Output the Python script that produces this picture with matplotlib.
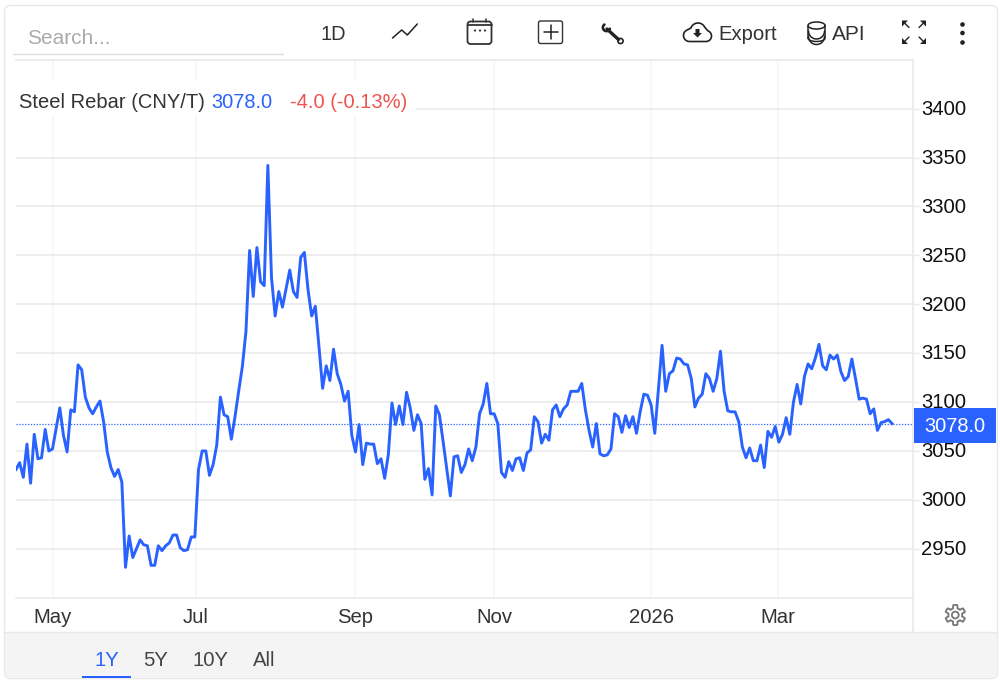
import numpy as np
import matplotlib
matplotlib.use("Agg")
import matplotlib.pyplot as plt
from matplotlib.patches import Rectangle, FancyBboxPatch, Circle, Polygon
from matplotlib.transforms import ScaledTranslation

matplotlib.rc("font", **{"family": "Liberation Sans"})

# daily close, CNY/T
prices = [
    3031, 3038, 3023, 3057, 3017, 3067, 3042, 3043, 3072, 3050,
    3052, 3073, 3094, 3066, 3049, 3092, 3090, 3138, 3133, 3105,
    3094, 3088, 3095, 3101, 3080, 3049, 3033, 3024, 3031, 3018,
    2931, 2963, 2941, 2950, 2959, 2954, 2953, 2933, 2933, 2953,
    2948, 2953, 2956, 2964, 2964, 2951, 2948, 2949, 2962, 2962,
    3031, 3050, 3050, 3025, 3036, 3056, 3105, 3087, 3085, 3062,
    3085, 3111, 3136, 3172, 3255, 3208, 3258, 3223, 3219, 3342,
    3227, 3188, 3213, 3197, 3216, 3235, 3213, 3207, 3248, 3253,
    3215, 3188, 3198, 3157, 3114, 3137, 3122, 3154, 3129, 3118,
    3101, 3111, 3066, 3049, 3077, 3036, 3058, 3057, 3057, 3037,
    3042, 3022, 3046, 3099, 3077, 3096, 3077, 3110, 3094, 3071,
    3087, 3078, 3021, 3032, 3005, 3096, 3087, 3060, 3032, 3004,
    3044, 3045, 3028, 3036, 3052, 3040, 3054, 3088, 3098, 3119,
    3088, 3088, 3078, 3028, 3023, 3039, 3030, 3042, 3043, 3030,
    3048, 3051, 3085, 3080, 3058, 3067, 3061, 3092, 3097, 3085,
    3093, 3097, 3111, 3111, 3111, 3119, 3092, 3071, 3054, 3078,
    3047, 3045, 3046, 3052, 3088, 3085, 3069, 3086, 3074, 3085,
    3068, 3090, 3108, 3107, 3097, 3068, 3113, 3158, 3111, 3129,
    3132, 3145, 3144, 3139, 3138, 3124, 3095, 3104, 3108, 3129,
    3124, 3111, 3124, 3152, 3111, 3091, 3090, 3090, 3080, 3054,
    3043, 3053, 3040, 3040, 3056, 3033, 3070, 3064, 3075, 3059,
    3067, 3084, 3067, 3100, 3118, 3098, 3126, 3139, 3134, 3145,
    3159, 3137, 3133, 3148, 3144, 3148, 3131, 3122, 3126, 3144,
    3124, 3103, 3104, 3103, 3088, 3093, 3071, 3079, 3080, 3082,
    3078,
]
month_pos = [10, 49.3, 93, 131, 174, 208.7]
month_labels = ["May", "Jul", "Sep", "Nov", "2026", "Mar"]
price_ticks = [2950, 3000, 3050, 3100, 3150, 3200, 3250, 3300, 3350, 3400]
last_price = 3078.0

BLUE = "#2962ff"
GRID = "#e8e8e8"
VGRID = "#f2f5fa"
DARK = "#333333"

W, H = 1000, 681
fig = plt.figure(figsize=(W / 100, H / 100), dpi=100)

ax = fig.add_axes([16 / W, 1 - 598 / H, (913 - 16) / W, (598 - 60) / H], zorder=2)
ax.set_facecolor("none")
ax.plot(range(len(prices)), prices, color=BLUE, lw=2.1, solid_joinstyle="round",
        zorder=4)
ax.axhline(last_price, color=BLUE, lw=0.9, ls=(0, (1, 1.3)), zorder=3)
ax.set_xlim(0, 245.75)
ax.set_ylim(2899.6, 3449.8)

ax.yaxis.tick_right()
ax.set_yticks(price_ticks)
ax.set_xticks(month_pos)
ax.set_xticklabels(month_labels)
ax.grid(axis="y", color=GRID, lw=1.1)
ax.grid(axis="x", color=VGRID, lw=1.1)
ax.set_axisbelow(True)
ax.tick_params(axis="y", length=4.3, width=1, color=GRID, pad=1.6, labelsize=14.6,
               labelcolor="#111111")
ax.tick_params(axis="x", length=0, pad=7.2, labelsize=14.6, labelcolor=DARK)
ax.spines["left"].set_visible(False)
for side in ["top", "bottom", "right"]:
    ax.spines[side].set_color(GRID)
    ax.spines[side].set_linewidth(1.1)
# tick labels sit a pixel above their gridlines
for tick_label in ax.get_yticklabels():
    tick_label.set_transform(tick_label.get_transform()
                             + ScaledTranslation(0, 1.2 / 100, fig.dpi_scale_trans))

# the page around the chart, in pixel coordinates
bg = fig.add_axes([0, 0, 1, 1], zorder=1)
bg.set_xlim(0, W)
bg.set_ylim(H, 0)
bg.axis("off")
bg.add_patch(FancyBboxPatch((4.5, 5.5), 993, 673, boxstyle="round,pad=0,rounding_size=6",
                            fc="white", ec="#e8e8e8", lw=1))
bg.add_patch(FancyBboxPatch((5, 632), 992, 46, boxstyle="round,pad=0,rounding_size=4",
                            fc="#f4f4f4", ec="none"))
bg.add_patch(Rectangle((5, 632), 992, 20, fc="#f4f4f4", ec="none"))
bg.plot([5, 997], [631.5, 631.5], color=GRID, lw=1)
bg.plot([913, 913], [598, 631], color=GRID, lw=1.1)

ui = fig.add_axes([0, 0, 1, 1], zorder=3)
ui.set_xlim(0, W)
ui.set_ylim(H, 0)
ui.axis("off")


def label(x, y, s, color=DARK, size=14.6, ha="left"):
    ui.text(x, y, s, color=color, fontsize=size, ha=ha, va="center_baseline")


def arc(cx, cy, r, a0, a1, n=30):
    t = np.radians(np.linspace(a0, a1, n))
    return np.column_stack([cx + r * np.cos(t), cy + r * np.sin(t)])


def stroke(pts, color="#222222", lw=1.1):
    pts = np.asarray(pts)
    ui.plot(pts[:, 0], pts[:, 1], color=color, lw=lw, solid_capstyle="round")


# legend strip
ui.add_patch(Rectangle((16, 80), 400, 35, fc="white", ec="none"))
label(19, 101, "Steel Rebar (CNY/T)", size=14.5)
label(211, 101, "3078.0", color=BLUE, size=14.4)
label(290, 101, "-4.0 (-0.13%)", color="#ef5350", size=14.5)

# price tag
ui.add_patch(Rectangle((914, 408), 82, 35, fc=BLUE, ec="none"))
ui.text(955, 426, "3078.0", color="white", fontsize=14.4, ha="center", va="center")

# toolbar
label(27, 37, "Search...", color="#aaaaaa", size=15)
ui.plot([13, 283], [53.5, 53.5], color="#dddddd", lw=1)
label(321, 32, "1D", size=14.4)
stroke([(392.5, 38), (401.7, 30), (407.3, 35), (417.3, 24)])

# calendar
ui.add_patch(FancyBboxPatch((467.5, 21.5), 24, 22.5, boxstyle="round,pad=0,rounding_size=3",
                            fc="white", ec="#333333", lw=1.3))
stroke([(467.5, 25), (491.5, 25)], color="#333333", lw=1.3)
stroke([(473, 18.5), (473, 22)], color="#333333", lw=1.1)
stroke([(486, 18.5), (486, 22)], color="#333333", lw=1.1)
for dot_x in [475, 480, 485]:
    ui.add_patch(Circle((dot_x, 30.5), 1.1, fc="#333333", ec="none"))

# plus box
ui.add_patch(FancyBboxPatch((538.5, 21), 24, 22.5, boxstyle="round,pad=0,rounding_size=2",
                            fc="white", ec="#333333", lw=1))
stroke([(550.5, 25), (550.5, 39)])
stroke([(543.5, 32), (557.5, 32)])

# wrench
stroke([(607, 29), (618.5, 39.5)], lw=2.4)
stroke(arc(606.5, 27.5, 3.6, 20, 235), lw=1.9)
ui.add_patch(Circle((620.5, 41), 2.6, fc="white", ec="#222222", lw=1.2))

# cloud with arrow
cloud = np.vstack([arc(689.5, 35.5, 6, 90, 235), arc(698, 30.5, 7.5, 200, 335),
                   arc(706, 36, 5.5, 290, 450)])
ui.add_patch(Polygon(cloud, closed=True, fc="white", ec="#222222", lw=1.2))
ui.add_patch(Polygon([(695.5, 29), (699.5, 29), (699.5, 33), (702, 33), (697.5, 37.5), (693, 33),
                      (695.5, 33)], closed=True, fc="#222222", ec="none"))
label(718, 32, "Export")

# database
for db_y in [31, 36.5]:
    stroke(arc(816.5, db_y, 8, 0, 180), lw=1.1)
stroke(np.column_stack([816.5 + 8.5 * np.cos(np.linspace(0, 2 * np.pi, 40)),
                        25.5 + 3.5 * np.sin(np.linspace(0, 2 * np.pi, 40))]))
stroke([(808, 25.5), (808, 38)])
stroke([(825, 25.5), (825, 38)])
stroke(np.column_stack([816.5 + 8.5 * np.cos(np.linspace(0, np.pi, 20)),
                        38 + 3.5 * np.sin(np.linspace(0, np.pi, 20))]))
label(832, 32, "API", size=15)

# fullscreen arrows
for cx, cy, sx, sy in [(902, 20.5, 1, 1), (926, 20.5, -1, 1), (902, 44, 1, -1), (926, 44, -1, -1)]:
    ui.add_patch(Polygon([(cx, cy), (cx + 6 * sx, cy), (cx, cy + 6 * sy)], closed=True,
                         fc="#222222", ec="none"))
    stroke([(cx + 3 * sx, cy + 3 * sy), (cx + 7 * sx, cy + 7 * sy)], lw=1)

# menu dots
for dot_y in [24.5, 33, 42.5]:
    ui.add_patch(Circle((962.5, dot_y), 2.3, fc="#222222", ec="none"))

# gear
t = np.linspace(0, 2 * np.pi, 180)
r = 8.5 + 1.6 * np.clip(3 * np.cos(6 * t), -1, 1)
ui.add_patch(Polygon(np.column_stack([955.3 + r * np.sin(t), 615 + r * np.cos(t)]), closed=True,
                     fc="white", ec="#777777", lw=1.3))
ui.add_patch(Circle((955.3, 615), 3.4, fc="white", ec="#777777", lw=1.3))

# range buttons
label(95, 659, "1Y", color=BLUE)
label(143, 659, "5Y", color="#444444")
label(193, 659, "10Y", color="#444444")
label(253, 659, "All", color="#444444")
ui.add_patch(Rectangle((82, 676), 49, 2, fc=BLUE, ec="none"))

plt.savefig("out.png", dpi=100)
plt.close()
